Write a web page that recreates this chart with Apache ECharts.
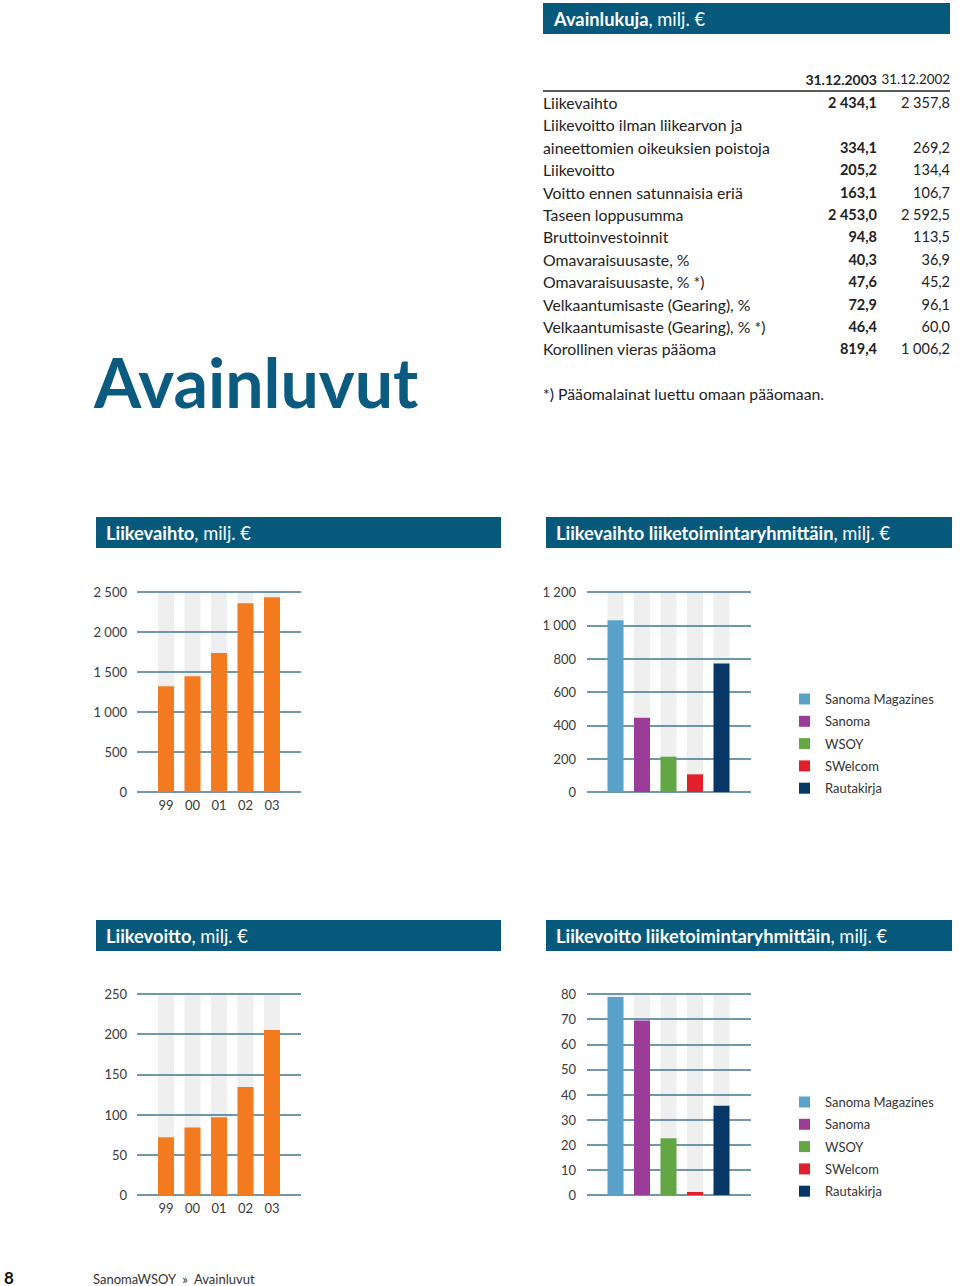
<!DOCTYPE html>
<html>
<head>
<meta charset="utf-8">
<script src="https://cdn.jsdelivr.net/npm/echarts@6/dist/echarts.min.js"></script>
<style>
html,body{margin:0;padding:0;background:#fff;}
#c{width:960px;height:1286px;}
</style>
</head>
<body>
<div id="c"></div>
<script>
// ---- data ----
const years = ['99', '00', '01', '02', '03'];
const revenue = [1323, 1448, 1739, 2358, 2434];
const profit = [71.8, 83.9, 96.8, 134.4, 205.2];
const segments = ['Sanoma Magazines', 'Sanoma', 'WSOY', 'SWelcom', 'Rautakirja'];
const segRevenue = [1030, 445, 212, 106, 771];
const segProfit = [78.8, 69.5, 22.6, 1.2, 35.5];
const revTicks = [0, 500, 1000, 1500, 2000, 2500];
const segRevTicks = [0, 200, 400, 600, 800, 1000, 1200];
const profitTicks = [0, 50, 100, 150, 200, 250];
const segProfitTicks = [0, 10, 20, 30, 40, 50, 60, 70, 80];

const tableHeaders = ['31.12.2003', '31.12.2002'];
const rowLabels = ['Liikevaihto', 'Liikevoitto ilman liikearvon ja', 'aineettomien oikeuksien poistoja',
  'Liikevoitto', 'Voitto ennen satunnaisia eriä', 'Taseen loppusumma', 'Bruttoinvestoinnit',
  'Omavaraisuusaste, %', 'Omavaraisuusaste, % *)', 'Velkaantumisaste (Gearing), %',
  'Velkaantumisaste (Gearing), % *)', 'Korollinen vieras pääoma'];
const col2003 = ['2 434,1', '', '334,1', '205,2', '163,1', '2 453,0', '94,8', '40,3', '47,6', '72,9', '46,4', '819,4'];
const col2002 = ['2 357,8', '', '269,2', '134,4', '106,7', '2 592,5', '113,5', '36,9', '45,2', '96,1', '60,0', '1 006,2'];
const footnote = '*) Pääomalainat luettu omaan pääomaan.';

// ---- styles ----
const FONT = 'Lato, "Open Sans", sans-serif';
const BLUE = '#07597c';
const ORANGE = '#f47a20';
const SEG_COLORS = ['#5ba2cb', '#9b3d98', '#62a744', '#e2202b', '#063766'];
const GRID_LINE = '#3f7690';
const BG_GRAY = '#efefef';
const TICK_COLOR = '#3a3a3a';

function fmt(v) {
  return String(v).replace(/\B(?=(\d{3})+(?!\d))/g, ' ');
}

const grids = [], xAxes = [], yAxes = [], series = [];

function addChart(cfg) {
  const gi = grids.length;
  // grid A: gridlines + y labels
  grids.push({left: cfg.lineLeft, top: cfg.top, width: 164, height: cfg.height});
  xAxes.push({type: 'category', gridIndex: gi, data: cfg.cats, show: false});
  yAxes.push({
    type: 'value', gridIndex: gi, min: cfg.ticks[0], max: cfg.ticks[cfg.ticks.length - 1],
    interval: cfg.ticks[1] - cfg.ticks[0], z: 2,
    axisLine: {show: false}, axisTick: {show: false},
    splitLine: {show: true, lineStyle: {color: GRID_LINE, width: 1.5}},
    axisLabel: {margin: cfg.labelMargin, fontFamily: FONT, fontSize: 13, color: TICK_COLOR, formatter: fmt}
  });
  // grid B: bars
  const gb = grids.length;
  grids.push({left: cfg.barLeft, top: cfg.top, width: 132.5, height: cfg.height});
  xAxes.push({
    type: 'category', gridIndex: gb, data: cfg.cats,
    axisLine: {show: false}, axisTick: {show: false},
    axisLabel: {show: cfg.showX, margin: 6, fontFamily: FONT, fontSize: 13, color: TICK_COLOR}
  });
  yAxes.push({
    type: 'value', gridIndex: gb, min: cfg.ticks[0], max: cfg.ticks[cfg.ticks.length - 1],
    interval: cfg.ticks[1] - cfg.ticks[0], show: false, splitLine: {show: false}
  });
  const items = cfg.values.map((v, i) => ({value: v, itemStyle: {color: cfg.colors ? cfg.colors[i] : ORANGE}}));
  // background columns (below gridlines)
  series.push({
    type: 'bar', xAxisIndex: gb, yAxisIndex: gb, data: cfg.values, barWidth: 16, barGap: '-100%',
    itemStyle: {color: 'rgba(0,0,0,0)'}, showBackground: true,
    backgroundStyle: {color: BG_GRAY}, z: 1, silent: true, animation: false
  });
  series.push({
    type: 'bar', xAxisIndex: gb, yAxisIndex: gb, data: items, barWidth: 16, barGap: '-100%',
    z: 3, animation: false
  });
  return gi;
}

const gA = addChart({lineLeft: 137, barLeft: 152.75, top: 592, height: 200, ticks: revTicks, cats: years, values: revenue, showX: true, labelMargin: 10});
addChart({lineLeft: 587, barLeft: 602.25, top: 592, height: 200, ticks: segRevTicks, cats: segments, values: segRevenue, colors: SEG_COLORS, showX: false, labelMargin: 11});
addChart({lineLeft: 137, barLeft: 152.75, top: 994, height: 201, ticks: profitTicks, cats: years, values: profit, showX: true, labelMargin: 10});
addChart({lineLeft: 587, barLeft: 602.25, top: 994, height: 201, ticks: segProfitTicks, cats: segments, values: segProfit, colors: SEG_COLORS, showX: false, labelMargin: 11});

// legend-only series (empty) on first gridline grid
segments.forEach((name, i) => {
  series.push({type: 'bar', name: name, data: [], xAxisIndex: gA, yAxisIndex: gA, itemStyle: {color: SEG_COLORS[i]}});
});

function legendAt(top) {
  return {
    orient: 'vertical', left: 799, top: top, padding: 0, itemWidth: 11, itemHeight: 11, itemGap: 9.3,
    icon: 'rect', selectedMode: false, data: segments,
    textStyle: {fontFamily: FONT, fontSize: 13, color: '#333', padding: [0, 0, 0, 10]}
  };
}

// ---- graphic (header, table, titles) ----
const graphic = [];
function bar(x, y, w, h) {
  graphic.push({type: 'rect', shape: {x: x, y: y, width: w, height: h}, style: {fill: BLUE}, silent: true});
}
function headText(x, y, bold, rest) {
  graphic.push({
    type: 'text', x: x, y: y, silent: true,
    style: {
      text: '{b|' + bold + '}{n|' + rest + '}', verticalAlign: 'middle',
      rich: {
        b: {fontFamily: FONT, fontWeight: 'bold', fontSize: 18.3, fill: '#fff'},
        n: {fontFamily: FONT, fontWeight: 'normal', fontSize: 18.3, fill: '#fff'}
      }
    }
  });
}
function txt(x, y, s, opts) {
  graphic.push({
    type: 'text', x: x, y: y, silent: true,
    style: Object.assign({text: s, fontFamily: FONT, fontSize: 15.8, fill: '#222', verticalAlign: 'middle', align: 'left'}, opts || {})
  });
}

bar(543, 3, 407, 31);
headText(554, 18.5, 'Avainlukuja', ', milj. €');

txt(877, 79, tableHeaders[0], {align: 'right', fontWeight: 'bold', fontSize: 14});
txt(950, 79, tableHeaders[1], {align: 'right', fontSize: 13.4});
graphic.push({type: 'line', shape: {x1: 543, y1: 91, x2: 950, y2: 91}, style: {stroke: '#222', lineWidth: 1.5}, silent: true});
rowLabels.forEach((lab, i) => {
  const y = 102.5 + i * 22.4;
  txt(543, y, lab);
  if (col2003[i]) txt(877, y, col2003[i], {align: 'right', fontWeight: 'bold', fontSize: 14.5});
  if (col2002[i]) txt(950, y, col2002[i], {align: 'right', fontSize: 14.5});
});
txt(543, 393.5, footnote);

txt(94, 381, 'Avainluvut', {fontSize: 68, fontWeight: 'bold', fill: '#0b5a80'});

bar(96, 517, 405, 31);
headText(106, 533, 'Liikevaihto', ', milj. €');
bar(546, 517, 406, 31);
headText(556, 533, 'Liikevaihto liiketoimintaryhmittäin', ', milj. €');
bar(96, 920, 405, 31);
headText(106, 936, 'Liikevoitto', ', milj. €');
bar(546, 920, 406, 31);
headText(556, 936, 'Liikevoitto liiketoimintaryhmittäin', ', milj. €');

txt(4, 1277, '8', {fontSize: 17, fontWeight: 'bold', fill: '#111'});
txt(93, 1279, 'SanomaWSOY  »  Avainluvut', {fontSize: 13, fill: '#333'});

const chart = echarts.init(document.getElementById('c'), null, {renderer: 'svg'});
chart.setOption({
  animation: false,
  backgroundColor: '#fff',
  grid: grids,
  xAxis: xAxes,
  yAxis: yAxes,
  series: series,
  legend: [legendAt(692.5), legendAt(1095.5)],
  graphic: graphic
});
</script>
</body>
</html>
